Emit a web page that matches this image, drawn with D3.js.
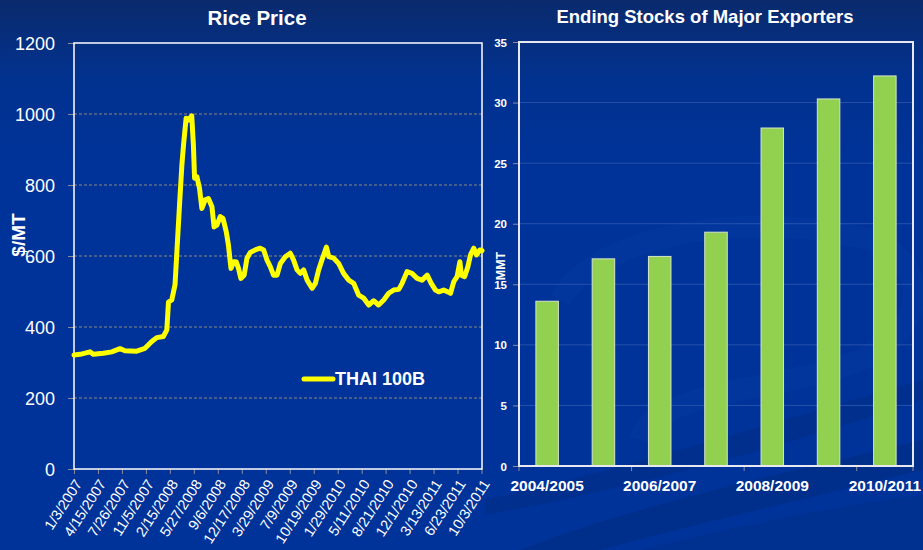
<!DOCTYPE html>
<html>
<head>
<meta charset="utf-8">
<script src="https://cdn.jsdelivr.net/npm/d3@7"></script>
<style>
  body { margin: 0; background: #003399; }
  svg { display: block; font-family: "Liberation Sans", Arial, sans-serif; }
</style>
</head>
<body>
<div id="chart"></div>
<script>
// Rice price (THAI 100B), $/MT
var priceDates = ["1/3/2007","1/29/2007","3/12/2007","3/26/2007","5/8/2007","6/13/2007","7/18/2007","8/8/2007",
  "9/27/2007","11/1/2007","11/30/2007","12/21/2007","1/18/2008","2/2/2008","2/9/2008","2/23/2008","3/8/2008",
  "3/15/2008","3/27/2008","4/6/2008","4/13/2008","4/24/2008","5/4/2008","5/18/2008","5/25/2008","5/30/2008",
  "6/9/2008","6/20/2008","6/30/2008","7/14/2008","7/28/2008","8/12/2008","8/21/2008","9/2/2008","9/16/2008",
  "9/28/2008","10/12/2008","10/21/2008","11/1/2008","11/12/2008","11/23/2008","12/3/2008","12/13/2008",
  "12/27/2008","1/8/2009","1/22/2009","2/12/2009","3/5/2009","3/20/2009","4/3/2009","4/17/2009","5/1/2009",
  "5/16/2009","5/30/2009","6/20/2009","7/11/2009","7/25/2009","8/9/2009","8/23/2009","9/6/2009","9/21/2009",
  "10/12/2009","10/26/2009","11/9/2009","11/23/2009","12/12/2009","12/22/2009","1/12/2010","2/2/2010",
  "2/23/2010","3/17/2010","4/7/2010","4/28/2010","5/20/2010","6/10/2010","7/1/2010","7/22/2010","8/13/2010",
  "9/3/2010","9/24/2010","10/16/2010","10/30/2010","11/20/2010","12/11/2010","1/2/2011","1/23/2011",
  "2/14/2011","3/3/2011","3/21/2011","4/4/2011","4/25/2011","5/12/2011","5/24/2011","6/7/2011","6/21/2011",
  "7/3/2011","7/9/2011","7/23/2011","8/6/2011","8/17/2011","8/31/2011","9/12/2011","9/26/2011","10/5/2011"];
var priceValues = [321,323,330,323,326,330,339,333,
  332,340,359,370,373,392,470,476,520,
  603,744,856,913,988,983,995,913,819,
  823,791,734,758,762,739,682,687,711,
  706,668,631,565,584,584,565,537,
  546,594,610,617,622,617,589,570,546,
  546,579,598,608,589,561,551,561,532,
  509,523,561,589,625,598,594,579,
  551,532,523,490,481,462,474,462,476,
  495,504,506,523,556,551,537,532,
  546,523,504,499,504,499,495,528,542,
  584,546,542,570,603,622,603,617,615];
var priceTicks = ["1/3/2007","4/15/2007","7/26/2007","11/5/2007","2/15/2008","5/27/2008","9/6/2008",
  "12/17/2008","3/29/2009","7/9/2009","10/19/2009","1/29/2010","5/11/2010","8/21/2010","12/1/2010",
  "3/13/2011","6/23/2011","10/3/2011"];
var priceYTicks = [0, 200, 400, 600, 800, 1000, 1200];

// Ending stocks of major exporters, MMT
var seasons = ["2004/2005","2005/2006","2006/2007","2007/2008","2008/2009","2009/2010","2010/2011"];
var stocks = [13.6, 17.1, 17.3, 19.3, 27.9, 30.3, 32.2];
var stockYTicks = [0, 5, 10, 15, 20, 25, 30, 35];
var seasonLabels = ["2004/2005","2006/2007","2008/2009","2010/2011"];

var W = 923, H = 550;
var parse = d3.timeParse("%m/%d/%Y");

var svg = d3.select("#chart").append("svg")
    .attr("width", W)
    .attr("height", H);

// background
var defs = svg.append("defs");
var bg = defs.append("linearGradient").attr("id", "bg")
    .attr("x1", 0).attr("y1", 0).attr("x2", 0).attr("y2", 1);
bg.append("stop").attr("offset", "0%").attr("stop-color", "#0a2a6c");
bg.append("stop").attr("offset", "14%").attr("stop-color", "#02328f");
bg.append("stop").attr("offset", "30%").attr("stop-color", "#003399");
bg.append("stop").attr("offset", "100%").attr("stop-color", "#003399");
svg.append("rect").attr("width", W).attr("height", H).attr("fill", "url(#bg)");

// darker swooshes at the bottom right
var sw = svg.append("g").attr("fill", "#002a80");
sw.append("path").attr("opacity", 0.55)
    .attr("d", "M520,550 C650,500 800,470 923,440 L923,470 C820,495 690,525 600,550 Z");
sw.append("path").attr("opacity", 0.45)
    .attr("d", "M485,500 C620,470 780,420 923,380 L923,400 C800,440 650,485 485,515 Z");
sw.append("path").attr("opacity", 0.35)
    .attr("d", "M640,550 C740,525 840,505 923,495 L923,550 Z");
svg.append("path").attr("fill", "none").attr("stroke", "#0a3ca6").attr("stroke-width", 22).attr("opacity", 0.35)
    .attr("d", "M560,300 C600,230 760,210 870,240 C930,260 930,330 860,360 C790,390 650,390 640,440");

// ---------- left: rice price ----------
var L = {left: 74, right: 482, top: 43, bottom: 469};

var x = d3.scaleTime()
    .domain([parse("1/3/2007"), parse("10/5/2011")])
    .range([L.left, L.right]);
var y = d3.scaleLinear()
    .domain([0, 1200])
    .range([L.bottom, L.top]);

var left = svg.append("g");

left.append("text")
    .attr("x", 257).attr("y", 25)
    .attr("text-anchor", "middle")
    .attr("fill", "#fff")
    .style("font-size", "20.5px").style("font-weight", "bold")
    .text("Rice Price");

// grid
left.append("g").selectAll("line")
    .data(priceYTicks.filter(function(d) { return d > 0 && d < 1200; }))
  .enter().append("line")
    .attr("x1", L.left).attr("x2", L.right)
    .attr("y1", function(d) { return y(d); }).attr("y2", function(d) { return y(d); })
    .attr("stroke", "#8c8a78").attr("stroke-dasharray", "3,2");

// y axis
var yAxis = d3.axisLeft(y).tickValues(priceYTicks).tickFormat(d3.format("d")).tickSize(6).tickPadding(13);
left.append("g")
    .attr("transform", "translate(" + L.left + ",0)")
    .call(yAxis)
    .call(function(g) {
      g.select(".domain").remove();
      g.selectAll("line").attr("stroke", "#8c8a9a");
      g.selectAll("text").attr("fill", "#fff").style("font-size", "18px").attr("font-family", null).attr("dy", "0.36em");
    });

// x axis
var xAxis = d3.axisBottom(x)
    .tickValues(priceTicks.map(parse))
    .tickFormat(d3.timeFormat("%-m/%-d/%Y"))
    .tickSize(5);
left.append("g")
    .attr("transform", "translate(0," + L.bottom + ")")
    .call(xAxis)
    .call(function(g) {
      g.select(".domain").remove();
      g.selectAll("line").attr("stroke", "#8c8a9a");
      g.selectAll("text")
          .attr("fill", "#fff")
          .attr("font-family", null)
          .style("font-size", "14.5px")
          .attr("text-anchor", "end")
          .attr("x", 0).attr("y", 0).attr("dy", "0.35em")
          .attr("transform", "translate(4,12) rotate(-57)");
    });

// frame
left.append("rect")
    .attr("x", L.left).attr("y", L.top)
    .attr("width", L.right - L.left).attr("height", L.bottom - L.top)
    .attr("fill", "none").attr("stroke", "#fff").attr("stroke-width", 1.5);

// line
var line = d3.line()
    .x(function(d) { return x(d.date); })
    .y(function(d) { return y(d.value); })
    .curve(d3.curveLinear);
var priceData = priceDates.map(function(d, i) { return {date: parse(d), value: priceValues[i]}; });
left.append("path")
    .datum(priceData)
    .attr("d", line)
    .attr("fill", "none")
    .attr("stroke", "#ffff00")
    .attr("stroke-width", 5)
    .attr("stroke-linejoin", "round")
    .attr("stroke-linecap", "round");

// legend
left.append("line")
    .attr("x1", 304).attr("x2", 333).attr("y1", 379).attr("y2", 379)
    .attr("stroke", "#ffff00").attr("stroke-width", 5).attr("stroke-linecap", "round");
left.append("text")
    .attr("x", 335).attr("y", 385)
    .attr("fill", "#fff")
    .style("font-size", "18px").style("font-weight", "bold")
    .text("THAI 100B");

// axis title
left.append("text")
    .attr("transform", "translate(25,235) rotate(-90)")
    .attr("text-anchor", "middle")
    .attr("fill", "#fff")
    .style("font-size", "19px").style("font-weight", "bold")
    .text("$/MT");

// ---------- right: ending stocks ----------
var R = {left: 519, right: 913, top: 42, bottom: 466};

var xb = d3.scaleBand()
    .domain(seasons)
    .range([R.left, R.right])
    .padding(0);
var yb = d3.scaleLinear()
    .domain([0, 35])
    .range([R.bottom, R.top]);

var right = svg.append("g");

right.append("text")
    .attr("x", 705).attr("y", 23)
    .attr("text-anchor", "middle")
    .attr("fill", "#fff")
    .style("font-size", "18.5px").style("font-weight", "bold")
    .text("Ending Stocks of Major Exporters");

right.append("g").selectAll("line")
    .data(stockYTicks.filter(function(d) { return d > 0 && d < 35; }))
  .enter().append("line")
    .attr("x1", R.left).attr("x2", R.right)
    .attr("y1", function(d) { return yb(d); }).attr("y2", function(d) { return yb(d); })
    .attr("stroke", "#2652ac").attr("stroke-width", 1);

right.append("g")
    .attr("transform", "translate(" + R.left + ",0)")
    .call(d3.axisLeft(yb).tickValues(stockYTicks).tickSize(6).tickPadding(6))
    .call(function(g) {
      g.select(".domain").remove();
      g.selectAll("line").attr("stroke", "#8c8a9a");
      g.selectAll("text").attr("fill", "#fff").attr("font-family", null)
          .style("font-size", "11.5px").style("font-weight", "bold").attr("dy", "0.36em");
    });

// x ticks at every other category boundary, labels under every other category
var boundaries = seasons.filter(function(d, i) { return i % 2 === 0; });
right.append("g").selectAll("line")
    .data(boundaries.concat(["end"]))
  .enter().append("line")
    .attr("x1", function(d) { return d === "end" ? R.right : xb(d); })
    .attr("x2", function(d) { return d === "end" ? R.right : xb(d); })
    .attr("y1", R.bottom).attr("y2", R.bottom + 5)
    .attr("stroke", "#8c8a9a");
right.append("g").selectAll("text")
    .data(seasonLabels)
  .enter().append("text")
    .attr("x", function(d) { return xb(d) + xb.bandwidth() / 2; })
    .attr("y", 491)
    .attr("text-anchor", "middle")
    .attr("fill", "#fff")
    .style("font-size", "15.5px").style("font-weight", "bold")
    .text(function(d) { return d; });

right.append("g").selectAll("rect")
    .data(seasons)
  .enter().append("rect")
    .attr("x", function(d) { return xb(d) + xb.bandwidth() * 0.3; })
    .attr("width", xb.bandwidth() * 0.4)
    .attr("y", function(d, i) { return yb(stocks[i]); })
    .attr("height", function(d, i) { return R.bottom - yb(stocks[i]); })
    .attr("fill", "#92d050")
    .attr("stroke", "#d6e4c8").attr("stroke-width", 1);

right.append("rect")
    .attr("x", R.left).attr("y", R.top)
    .attr("width", R.right - R.left).attr("height", R.bottom - R.top)
    .attr("fill", "none").attr("stroke", "#e8e8f0").attr("stroke-width", 2);

right.append("text")
    .attr("transform", "translate(505,266) rotate(-90)")
    .attr("text-anchor", "middle")
    .attr("fill", "#fff")
    .style("font-size", "12.5px").style("font-weight", "bold")
    .text("MMT");
</script>
</body>
</html>
